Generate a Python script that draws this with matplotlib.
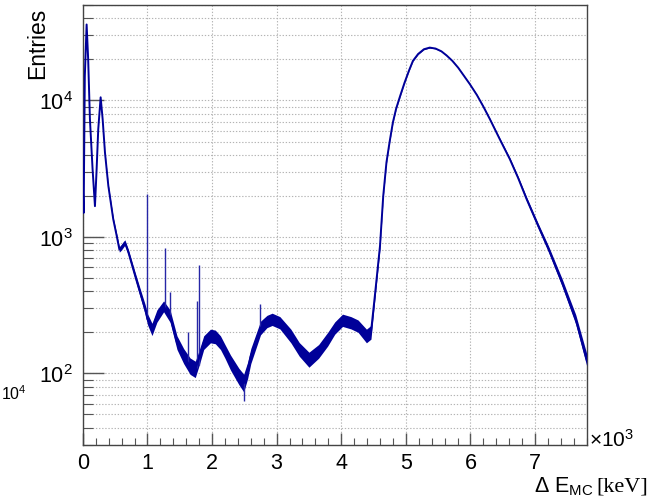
import numpy as np
import matplotlib
matplotlib.use("Agg")
import matplotlib.pyplot as plt
from matplotlib.ticker import LogLocator, NullFormatter, MultipleLocator, LogFormatterSciNotation

plt.rcParams['font.family'] = ['Liberation Sans', 'DejaVu Sans']
plt.rcParams['mathtext.fontset'] = 'custom'
plt.rcParams['mathtext.rm'] = 'Liberation Sans'
plt.rcParams['mathtext.it'] = 'Liberation Sans:italic'
plt.rcParams['mathtext.default'] = 'regular'

# ---- data ----
energy_keV = [0, 12, 30, 58, 82, 109, 150, 187, 213, 238, 275, 306, 342, 394, 470,
              524, 565, 597, 650, 705, 810, 886, 964, 1000, 1070, 1146, 1250, 1350,
              1457, 1560, 1660, 1740, 1800, 1871, 1975, 2050, 2130, 2200, 2286, 2415,
              2490, 2550, 2600, 2750, 2850, 2930, 3050, 3220, 3350, 3500, 3650, 3790,
              3900, 4020, 4150, 4260, 4390, 4460, 4520, 4600, 4650, 4700, 4750, 4800,
              4850, 4910, 4980, 5050, 5110, 5190, 5280, 5370, 5460, 5550, 5630, 5720,
              5810, 5900, 5990, 6100, 6200, 6300, 6450, 6610, 6740, 6870, 7050, 7210,
              7420, 7630, 7800]
entries = [2300, 1500, 15000, 36000, 20000, 7300, 3150, 1680, 3150, 6150, 10540, 7300,
           4150, 2370, 1350, 1016, 810, 840, 910, 770, 518, 391, 295, 250, 210, 263,
           310, 263, 168, 134, 113, 107, 130, 168, 188, 185, 168, 145, 120, 95,
           85, 105, 134, 215, 240, 249, 235, 188, 150, 126, 145, 178,
           215, 245, 235, 222, 188, 200, 369, 859, 1995, 3516, 5012, 6918,
           8710, 10715, 13490, 16600, 19500, 21880, 23710, 24380, 23990, 22910, 21380, 19500,
           17380, 15140, 13180, 10960, 9016, 7311, 5248, 3715, 2692, 1892, 1202, 813,
           462, 249, 126]
# half-width of the statistical noise band, in decades
noise_dec = [0, 0, 0, 0, 0, 0, 0, 0, 0, 0, 0, 0, 0.005, 0.008, 0.012,
             0.015, 0.02, 0.02, 0.02, 0.022, 0.025, 0.03, 0.035, 0.04, 0.045, 0.045,
             0.04, 0.045, 0.05, 0.055, 0.06, 0.06, 0.055, 0.05, 0.05, 0.05, 0.05, 0.05,
             0.055, 0.06, 0.065, 0.06, 0.055, 0.05, 0.045, 0.045, 0.045, 0.05, 0.05,
             0.055, 0.05, 0.05, 0.045, 0.045, 0.045, 0.045, 0.05, 0.05, 0.03, 0.02,
             0.01, 0.008, 0.006, 0.005, 0.004, 0.004, 0.003, 0.003, 0.003, 0.003, 0.003,
             0.003, 0.003, 0.003, 0.003, 0.003, 0.003, 0.003, 0.004, 0.004, 0.005,
             0.006, 0.008, 0.01, 0.012, 0.015, 0.018, 0.022, 0.028, 0.035, 0.045]

# narrow gamma lines (and one downward fluctuation)
line_keV = [1000, 1266, 1356, 1632, 1762, 1797, 2740, 2490]
line_base = [250, 300, 262, 120, 110, 115, 215, 85]
line_top = [2055, 826, 394, 200, 339, 624, 321, 63]

x_ticks = [0, 1, 2, 3, 4, 5, 6, 7]

# ---- figure ----
fig = plt.figure(figsize=(6.5, 5.02), dpi=100)
ax = fig.add_axes([0.1275, 0.112, 0.9026 - 0.1275, 0.988 - 0.112])

col = '#000099'
E = np.array(energy_keV) / 1e3
Y = np.array(entries, dtype=float)
S = np.array(noise_dec)
ax.fill_between(E, Y * 10**(-S), Y * 10**S, color=col, lw=0, zorder=3)
ax.plot(E, Y, color=col, lw=1.4, zorder=4)
ax.vlines(np.array(line_keV) / 1e3, line_base, line_top, color='#2626a6', lw=1.0, zorder=3)

ax.set_yscale('log')
ax.set_xlim(0, 7.8)
ax.set_ylim(30, 5e4)

ax.set_xticks(x_ticks)
ax.xaxis.set_minor_locator(MultipleLocator(0.2))
ax.yaxis.set_major_locator(LogLocator(base=10, numticks=10))
ax.yaxis.set_minor_locator(LogLocator(base=10, subs=np.arange(2, 10), numticks=20))
ax.yaxis.set_major_formatter(LogFormatterSciNotation())
ax.yaxis.set_minor_formatter(NullFormatter())

ax.tick_params(axis='both', which='both', direction='in', color='#555555')
ax.tick_params(axis='y', which='major', length=15, width=1.0, pad=7, labelsize=15.5)
ax.tick_params(axis='y', which='minor', length=7, width=0.8)
ax.tick_params(axis='x', which='major', length=9, width=1.0, pad=5, labelsize=15.5)
ax.tick_params(axis='x', which='minor', length=5, width=0.8)

grid_kw = dict(color='#b4b4b4', linestyle=(0, (1.2, 1.6)), linewidth=0.8)
ax.grid(True, which='major', axis='x', **grid_kw)
ax.grid(True, which='both', axis='y', **grid_kw)
ax.set_axisbelow(True)

for sp in ax.spines.values():
    sp.set_color('#444444')
    sp.set_linewidth(1.0)

# texts
fig.text(38 / 650, 1 - 8 / 502, 'Entries', rotation=90, ha='center', va='top', fontsize=16.5)
fig.text(589 / 650, 1 - 447 / 502, r'$\times$10$^{3}$', ha='left', va='baseline', fontsize=15)
fig.text(594 / 650, 1 - 492 / 502, r'$\Delta$ E$_{\mathregular{MC}}$', ha='right', va='baseline', fontsize=15.5)
fig.text(596 / 650, 1 - 492 / 502, '[keV]', ha='left', va='baseline', fontsize=16,
         family='Liberation Serif')
fig.text(1 / 650, 1 - 400 / 502, r'10$^{4}$', ha='left', va='baseline', fontsize=11.5)

fig.savefig('out.png', dpi=100)
